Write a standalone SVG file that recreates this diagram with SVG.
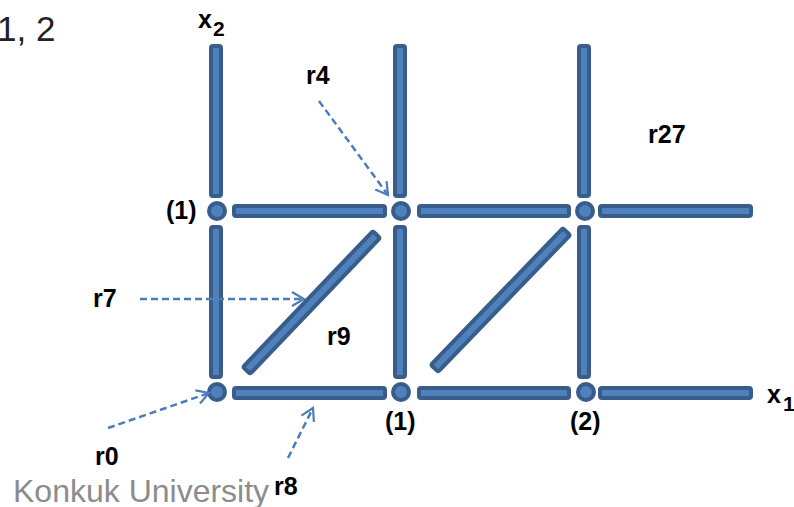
<svg xmlns="http://www.w3.org/2000/svg" width="794" height="507" viewBox="0 0 794 507">
<defs>
<style>
.bar{fill:#4f81bd;stroke:#385d8a;stroke-width:4}
.node{fill:#4f81bd;stroke:#385d8a;stroke-width:4}
.lbl{font-family:"Liberation Sans",Arial,sans-serif;font-weight:bold;font-size:25px;fill:#000}
.sub{font-size:21px}
.arr{fill:none;stroke:#4a7ebb;stroke-width:2.5;stroke-dasharray:7,4}
</style>
<marker id="ah" markerUnits="userSpaceOnUse" markerWidth="16" markerHeight="16" refX="13" refY="8" orient="auto" viewBox="0 0 16 16">
<path d="M1,1 L13,8 L1,15" fill="none" stroke="#4a7ebb" stroke-width="2.2"/>
</marker>
</defs>
<rect width="794" height="507" fill="#fff"/>
<text x="-3" y="41" font-family="'Liberation Sans',Arial,sans-serif" font-size="35" fill="#222">1, 2</text>
<text x="13" y="502" font-family="'Liberation Sans',Arial,sans-serif" font-size="32" fill="#8c8c8c">Konkuk University</text>

<g id="members">
<g id="v1a"><rect class="bar" x="211" y="46" width="10" height="150" rx="2"/></g>
<g id="v1b"><rect class="bar" x="211" y="227" width="10" height="150" rx="2"/></g>
<g id="v2a"><rect class="bar" x="395" y="46" width="10" height="150" rx="2"/></g>
<g id="v2b"><rect class="bar" x="395" y="227" width="10" height="150" rx="2"/></g>
<g id="v3a"><rect class="bar" x="579" y="46" width="10" height="150" rx="2"/></g>
<g id="v3b"><rect class="bar" x="579" y="227" width="10" height="150" rx="2"/></g>
<g id="h1a"><rect class="bar" x="234" y="206" width="151" height="10" rx="2"/></g>
<g id="h1b"><rect class="bar" x="419" y="206" width="150" height="10" rx="2"/></g>
<g id="h1c"><rect class="bar" x="600" y="206" width="151" height="10" rx="2"/></g>
<g id="h2a"><rect class="bar" x="234" y="388" width="151" height="10" rx="2"/></g>
<g id="h2b"><rect class="bar" x="419" y="388" width="150" height="10" rx="2"/></g>
<g id="h2c"><rect class="bar" x="600" y="388" width="151" height="10" rx="2"/></g>
<g id="d1"><rect class="bar" x="-94" y="-5" width="188" height="10" rx="2" transform="translate(311.5,302.5) rotate(-46.3)"/></g>
<g id="d2"><rect class="bar" x="-95" y="-5" width="190" height="10" rx="2" transform="translate(500.5,300) rotate(-46)"/></g>
</g>

<g id="joints">
<g id="n1"><circle class="node" cx="217" cy="211" r="8"/></g>
<g id="n2"><circle class="node" cx="401" cy="211" r="8"/></g>
<g id="n3"><circle class="node" cx="585" cy="211" r="8"/></g>
<g id="n4"><circle class="node" cx="217" cy="392" r="8"/></g>
<g id="n5"><circle class="node" cx="401" cy="392" r="8"/></g>
<g id="n6"><circle class="node" cx="586" cy="392" r="8"/></g>
</g>

<g id="connectors">
<line class="arr" x1="319" y1="101" x2="388" y2="195" marker-end="url(#ah)"/>
<line class="arr" x1="140" y1="299" x2="304" y2="299" marker-end="url(#ah)"/>
<line class="arr" x1="108" y1="428" x2="209" y2="393" marker-end="url(#ah)"/>
<line class="arr" x1="288" y1="458" x2="313" y2="408" marker-end="url(#ah)"/>
</g>

<g id="labels">
<text class="lbl" x="198" y="28">x</text>
<text class="lbl sub" x="213" y="36">2</text>
<text class="lbl" x="767" y="403">x</text>
<text class="lbl sub" x="783" y="411">1</text>
<text class="lbl" x="306" y="84">r4</text>
<text class="lbl" x="648" y="143">r27</text>
<text class="lbl" x="166" y="219">(1)</text>
<text class="lbl" x="93" y="307">r7</text>
<text class="lbl" x="327" y="345">r9</text>
<text class="lbl" x="95" y="465">r0</text>
<text class="lbl" x="385" y="430">(1)</text>
<text class="lbl" x="570" y="430">(2)</text>
<text class="lbl" x="274" y="495">r8</text>
</g>
</svg>
